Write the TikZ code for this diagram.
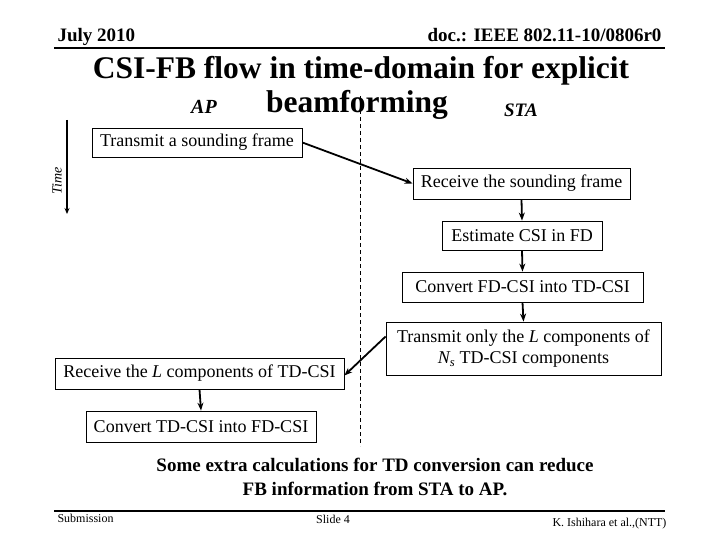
\documentclass[tikz,border=0pt]{standalone}
\usepackage{fontspec}
\setmainfont{Liberation Serif}
\usetikzlibrary{arrows.meta}
\tikzset{
  box/.style={draw, line width=0.8pt, inner sep=2pt, font=\fontsize{18}{21}\selectfont, align=center},
  flow/.style={line width=1.8pt, -{Stealth[length=8pt,width=6pt]}},
}
\begin{document}
\begin{tikzpicture}[x=1pt,y=-1pt]
\useasboundingbox (0,0) rectangle (720,540);
% header
\node[anchor=base west, font=\fontsize{19}{22}\selectfont\bfseries] (hdl) at (54,42) {July 2010};
\node[anchor=base east, font=\fontsize{19}{22}\selectfont\bfseries] (hdr) at (665,42) {doc.: IEEE 802.11-10/0806r0};
\draw[line width=2pt] (54,48) -- (665,48);
% title
\node[font=\fontsize{31.5}{34}\selectfont\bfseries, anchor=base] (t1) at (361,79) {CSI-FB flow in time-domain for explicit};
\node[font=\fontsize{31.5}{34}\selectfont\bfseries, anchor=base] (t2) at (357,113) {beamforming};
\node[font=\fontsize{20}{22}\selectfont\bfseries\itshape, anchor=base] (ap) at (204,114) {AP};
\node[font=\fontsize{19}{22}\selectfont\bfseries\itshape, anchor=base] (sta) at (521,117) {STA};
% dashed separator
\draw[dashed, line width=0.6pt, dash pattern=on 4pt off 3pt] (360,96) -- (360,446);
% time arrow
\coordinate (ttop) at (67,120);
\coordinate (tbot) at (67,214);
\draw[line width=1.5pt, -{Stealth[length=6pt,width=5pt]}] (ttop) -- (tbot);
\node[rotate=90, font=\fontsize{14}{16}\selectfont\itshape] (tl) at (57,181) {Time};
% boxes
\node[box, minimum width=210pt, minimum height=29pt] (tx) at (197,142.5) {Transmit a sounding frame};
\node[box, minimum width=217pt, minimum height=31pt] (rx) at (521.5,183.5) {Receive the sounding frame};
\node[box, minimum width=160pt, minimum height=29pt] (est) at (522,235.5) {Estimate CSI in FD};
\node[box, minimum width=241pt, minimum height=30pt] (c1) at (522.5,287) {Convert FD-CSI into TD-CSI};
\node[box, minimum width=275pt, minimum height=53pt] (txl) at (523.5,348.5) {Transmit only the \textit{L} components of\\\textit{N\textsubscript{s}} TD-CSI components};
\node[box, minimum width=289pt, minimum height=31pt] (rxl) at (199.5,373.5) {Receive the \textit{L} components of TD-CSI};
\node[box, minimum width=230pt, minimum height=31pt] (c2) at (201,426.5) {Convert TD-CSI into FD-CSI};
% connectors
\draw[flow] (tx.east) -- (rx.west);
\draw[flow] (rx.south) -- (est.north);
\draw[flow] (est.south) -- (c1.north);
\draw[flow] (c1.south) -- (txl.north);
\draw[flow] ([yshift=12pt]txl.west) -- ([yshift=-2pt]rxl.east);
\draw[flow] (rxl.south) -- (c2.north);
% bottom note
\node[font=\fontsize{19}{24}\selectfont\bfseries, align=center, anchor=north] (note) at (375,455) {Some extra calculations for TD conversion can reduce\\FB information from STA to AP.};
% footer
\draw[line width=2pt] (54,511) -- (665,511);
\node[anchor=base west, font=\fontsize{12}{13}\selectfont] (sub) at (54,522) {Submission};
\node[anchor=base, font=\fontsize{12}{13}\selectfont] (sl) at (333,523) {Slide 4};
\node[anchor=base east, font=\fontsize{12}{13}\selectfont] (au) at (670,526) {K. Ishihara et al.,(NTT)};
\end{tikzpicture}
\end{document}
